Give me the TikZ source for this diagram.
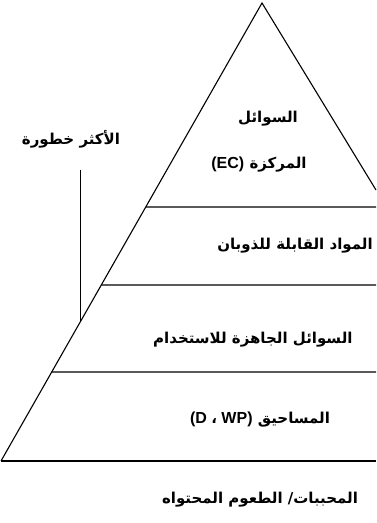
\documentclass[tikz,border=0pt]{standalone}
\usepackage{fontspec}
\TeXXeTstate=1
\newfontfamily\arabicfont[Script=Arabic]{DejaVu Sans Bold}
\newfontfamily\latinfont{Liberation Sans Bold}
\usetikzlibrary{calc}
\begin{document}
\begin{tikzpicture}[x=1pt,y=1pt,
  edge/.style={line width=1.1pt,black},
  lbl/.style={inner sep=0pt,font=\arabicfont\fontsize{15}{17}\selectfont}]
\useasboundingbox (0,0) rectangle (376,523);
\coordinate (A) at (262,520);
\coordinate (L) at (1,62);
\coordinate (R) at (376,333);
\coordinate (h1) at ($(A)!0.4454!(L)$);
\coordinate (h2) at ($(A)!0.6157!(L)$);
\coordinate (h3) at ($(A)!0.8057!(L)$);
\coordinate (h1e) at (376,316);
\coordinate (h2e) at (376,238);
\coordinate (h3e) at (376,151);
\coordinate (Le) at (376,62);
\coordinate (foot) at ($(A)!0.697!(L)$);
\coordinate (vtop) at (foot |- 0,353);
\draw[edge] (L) -- (A) -- (R);
\draw[edge] (h1) -- (h1e);
\draw[edge] (h2) -- (h2e);
\draw[edge] (h3) -- (h3e);
\draw[edge] (L) -- (Le);
\draw[edge] (vtop) -- (foot);
\node[lbl] (t0) at (71,384) {\beginR الأكثر خطورة\endR};
\node[lbl] (t1) at (268,404) {\beginR السوائل\endR};
\node[lbl] (t2) at (259,358) {\beginR المركزة \beginL{\latinfont\fontsize{16}{18}\selectfont (EC)}\endL\endR};
\node[lbl] (t3) at (295,277) {\beginR المواد القابلة للذوبان\endR};
\node[lbl,anchor=west] (t4) at (153,183) {\beginR السوائل الجاهزة للاستخدام\endR};
\node[lbl] (t5) at (260,103) {\beginR المساحيق \beginL{\latinfont\fontsize{16}{18}\selectfont (D }،{\latinfont\fontsize{16}{18}\selectfont{} WP)}\endL\endR};
\node[lbl] (t6) at (260,23) {\beginR المحببات\hbox{/} الطعوم المحتواه\endR};
\end{tikzpicture}
\end{document}
